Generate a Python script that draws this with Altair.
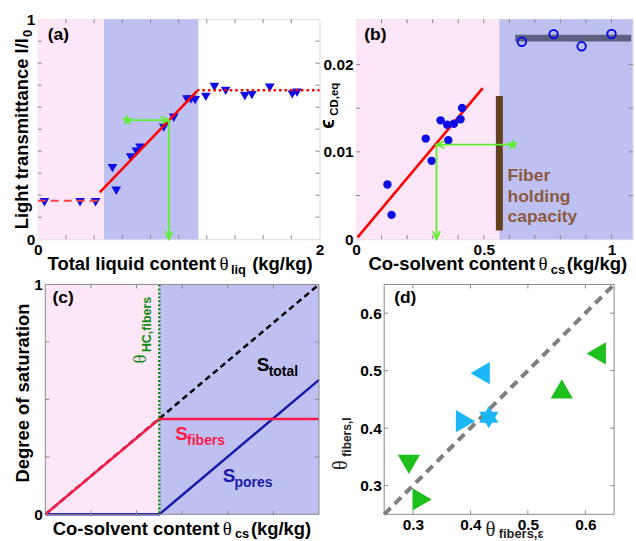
import altair as alt
import pandas as pd

# ---------------- (a) light transmittance vs total liquid content ----------------
a_liq = [0.047, 0.30, 0.41, 0.53, 0.557, 0.659, 0.70, 0.725, 0.894, 0.965,
         1.059, 1.087, 1.117, 1.193, 1.254, 1.334, 1.47, 1.52, 1.647, 1.807, 1.84]
a_trans = [0.168, 0.168, 0.168, 0.323, 0.22, 0.372, 0.398, 0.416, 0.507, 0.552,
           0.635, 0.635, 0.632, 0.647, 0.692, 0.674, 0.65, 0.655, 0.688, 0.658, 0.666]
a_dry_x = [0.0, 0.45]
a_dry_y = [0.175, 0.175]
a_rise_x = [0.44, 1.13]
a_rise_y = [0.213, 0.673]
a_wet_x = [1.13, 2.0]
a_wet_y = [0.677, 0.677]
a_zone = ["fibers", "pores"]
a_zone_from = [0.0, 0.47]
a_zone_to = [0.47, 1.14]
a_star_x = [0.635]
a_level = [0.541]
a_read_x = [0.93]

# ---------------- (b) equilibrium strain vs co-solvent content ----------------
b_cs = [0.123, 0.139, 0.273, 0.296, 0.331, 0.357, 0.361, 0.383, 0.409, 0.415]
b_eps = [0.00627, 0.00278, 0.01152, 0.00897, 0.01361, 0.0131, 0.01133, 0.01322, 0.01373, 0.01502]
b_sat_cs = [0.649, 0.773, 0.883, 1.0]
b_sat_eps = [0.02262, 0.02349, 0.02209, 0.0235]
b_fit_x = [0.006, 0.496]
b_fit_y = [0.0002, 0.0173]
b_band_from = [0.623]
b_band_to = [1.077]
b_band_level = [0.02303]
b_capacity = [0.561]
b_capacity_lo = [0.001]
b_capacity_hi = [0.0164]
b_zone = ["fibers", "pores"]
b_zone_from = [0.0, 0.561]
b_zone_to = [0.561, 1.083]
b_star_x = [0.613]
b_level = [0.01083]
b_read_x = [0.315]

# ---------------- (c) degree of saturation (schematic) ----------------
c_cs = [0.0, 0.25, 0.6]
c_fibers = [0.0, 0.415, 0.415]
c_pores = [0.0, 0.0, 0.585]
c_total_x = [0.0, 0.6]
c_total = [0.0, 1.0]
c_hc = [0.25]
c_zone = ["fibers", "pores"]
c_zone_from = [0.0, 0.25]
c_zone_to = [0.25, 0.6]

# ---------------- (d) fiber capacity from strain vs from transmittance ----------------
d_sample = ["S1", "S2", "S3", "S4", "S5", "S6", "S7"]
d_eps = [0.293, 0.316, 0.417, 0.3915, 0.432, 0.559, 0.619]
d_light = [0.337, 0.276, 0.4955, 0.412, 0.419, 0.4685, 0.530]
d_parity = [0.25, 0.65]

FONT = "Liberation Sans"
SERIF = "Liberation Serif"
FRAME = "#8a8a8a"
PINK = "#fde6f7"
LAV = "#bfc0f2"
RED = "#ff0000"
LIME = "#5cf02a"
BLUE = "#0d0de6"
GREEN = "#1ec01e"
CYAN = "#1ab6f5"

STAR5 = ("M0,-1L0.224,-0.307L0.951,-0.309L0.361,0.117L0.588,0.809L0,0.38"
         "L-0.588,0.809L-0.361,0.117L-0.951,-0.309L-0.224,-0.307Z")
HEX6 = ("M0,-1L0.289,-0.5L0.866,-0.5L0.577,0L0.866,0.5L0.289,0.5L0,1"
        "L-0.289,0.5L-0.866,0.5L-0.577,0L-0.866,-0.5L-0.289,-0.5Z")
CHEVRON = "M-1,-0.45L0,0L-1,0.45"

ONE = pd.DataFrame({"k": [0]})


def scales(xdom, ydom, xvals, yvals, xfmt, yfmt, xrange=None, yoffset=0):
    def axis(vals, fmt, offset=0):
        if not vals:
            return alt.Axis(labels=False, ticks=False, domain=False, grid=False, title=None)
        return alt.Axis(values=vals, format=fmt, title=None, domain=False, ticks=False,
                        grid=False, labelFont=FONT, labelFontWeight="bold",
                        labelFontSize=15.5, labelColor="black", labelPadding=3,
                        labelOverlap=False, labelFlush=False, offset=offset)
    if xrange:
        xs = alt.Scale(domain=xdom, range=xrange, nice=False, zero=False)
    else:
        xs = alt.Scale(domain=xdom, nice=False, zero=False)
    ys = alt.Scale(domain=ydom, nice=False, zero=False)
    xa, ya = axis(xvals, xfmt), axis(yvals, yfmt, yoffset)
    return (lambda f: alt.X(f, type="quantitative", scale=xs, axis=xa),
            lambda f: alt.Y(f, type="quantitative", scale=ys, axis=ya))


def inner_ticks(X, Y, xt, yt, x0, x1, h, n=4):
    rule = dict(color=FRAME, strokeWidth=1)
    dx = pd.DataFrame({"v": xt})
    dy = pd.DataFrame({"v": yt})
    return [
        alt.Chart(dx).mark_rule(**rule).encode(x=X("v"), y=alt.value(h), y2=alt.value(h - n)),
        alt.Chart(dx).mark_rule(**rule).encode(x=X("v"), y=alt.value(0), y2=alt.value(n)),
        alt.Chart(dy).mark_rule(**rule).encode(y=Y("v"), x=alt.value(x0), x2=alt.value(x0 + n)),
        alt.Chart(dy).mark_rule(**rule).encode(y=Y("v"), x=alt.value(x1), x2=alt.value(x1 - n)),
    ]


def frame(x0, x1, h):
    return alt.Chart(ONE).mark_rect(fillOpacity=0, stroke=FRAME, strokeWidth=1).encode(
        x=alt.value(x0), x2=alt.value(x1), y=alt.value(0), y2=alt.value(h))


def text(s, x, y, size, color="black", font=FONT, weight="bold", angle=0, align="left",
         style="normal"):
    return alt.Chart(ONE).mark_text(
        text=s, font=font, fontSize=size, fontWeight=weight, fontStyle=style, color=color,
        angle=angle, align=align, baseline="alphabetic"
    ).encode(x=alt.value(x), y=alt.value(y))


def zones(X, names, lo, hi, h):
    df = pd.DataFrame({"zone": names, "lo": lo, "hi": hi})
    return alt.Chart(df).mark_rect().encode(
        x=X("lo"), x2="hi", y=alt.value(0), y2=alt.value(h),
        color=alt.Color("zone:N", scale=alt.Scale(domain=["fibers", "pores"], range=[PINK, LAV]),
                        legend=None))


def line(X, Y, xs, ys, **kw):
    df = pd.DataFrame({"x": xs, "y": ys, "i": list(range(len(xs)))})
    return alt.Chart(df).mark_line(**kw).encode(x=X("x"), y=Y("y"), order="i:Q")


def reading(X, Y, star_x, level, read_x, angle_h):
    """Green star, horizontal arrow to the curve and vertical arrow to the axis."""
    df = pd.DataFrame({"s": star_x, "lv": level, "r": read_x, "z": [0.0]})
    hl = alt.Chart(df).mark_rule(color=LIME, strokeWidth=1.8).encode(x=X("s"), x2="r", y=Y("lv"))
    vl = alt.Chart(df).mark_rule(color=LIME, strokeWidth=1.8).encode(x=X("r"), y=Y("lv"), y2="z")
    hh = alt.Chart(df).mark_point(shape=CHEVRON, filled=False, size=260, strokeWidth=1.8,
                                  color=LIME, angle=angle_h, opacity=1).encode(x=X("r"), y=Y("lv"))
    vh = alt.Chart(df).mark_point(shape=CHEVRON, filled=False, size=260, strokeWidth=1.8,
                                  color=LIME, angle=90, opacity=1).encode(x=X("r"), y=Y("z"))
    st = alt.Chart(df).mark_point(shape=STAR5, filled=True, size=150, color=LIME,
                                  opacity=1).encode(x=X("s"), y=Y("lv"))
    return [hl, vl, hh, vh, st]


# ---------------- panel (a) ----------------
WA, HA = 283, 221
XA, YA = scales([0, 2], [0, 1], [0, 1, 2], [0, 1], "d", "d")
pa = alt.layer(
    alt.Chart(ONE).mark_rect(opacity=0).encode(
        x=alt.value(-37), x2=alt.value(-36), y=alt.value(-17), y2=alt.value(-16)),
    zones(XA, a_zone, a_zone_from, a_zone_to, HA),
    alt.Chart(pd.DataFrame({"x": a_liq, "y": a_trans})).mark_point(
        shape="triangle-down", filled=True, size=95, color=BLUE, opacity=1
    ).encode(x=XA("x"), y=YA("y")),
    line(XA, YA, a_dry_x, a_dry_y, color="#ff4040", strokeWidth=2, strokeDash=[8, 5]),
    line(XA, YA, a_rise_x, a_rise_y, color=RED, strokeWidth=2.5),
    line(XA, YA, a_wet_x, a_wet_y, color=RED, strokeWidth=2.5, strokeDash=[2.5, 3]),
    *reading(XA, YA, a_star_x, a_level, a_read_x, 0),
    *inner_ticks(XA, YA, [0.2, 0.4, 0.6, 0.8, 1.0, 1.2, 1.4, 1.6, 1.8],
                 [0.1, 0.2, 0.3, 0.4, 0.5, 0.6, 0.7, 0.8, 0.9], 0, WA, HA),
    text("(a)", 10, 21, 17.5),
    text("Total liquid content", 179, 252, 18.5, align="right"),
    text("θ", 182.5, 252, 19, font=SERIF, weight="normal"),
    text("liq", 194, 256, 13),
    text("(kg/kg)", 276, 252, 18.5, align="right"),
    text("Light transmittance I/I", -10, 19, 18.5, angle=270, align="right"),
    text("0", -6, 18, 13, angle=270),
).properties(width=WA, height=HA)

# ---------------- panel (b) ----------------
WB, HB = 278, 221
XB, YB = scales([0, 1.083], [0, 0.0252], [0, 0.5, 1], [0, 0.01, 0.02], "~g", "~g")
band = pd.DataFrame({"lo": b_band_from, "hi": b_band_to, "y": b_band_level})
cap = pd.DataFrame({"x": b_capacity, "lo": b_capacity_lo, "hi": b_capacity_hi})
BROWN_TXT = "#8b5a3c"
pb = alt.layer(
    zones(XB, b_zone, b_zone_from, b_zone_to, HB),
    alt.Chart(band).mark_rule(color="#5d5f7e", strokeWidth=7, strokeCap="butt").encode(
        x=XB("lo"), x2="hi", y=YB("y")),
    alt.Chart(cap).mark_rule(color="#63401f", strokeWidth=7, strokeCap="butt").encode(
        x=XB("x"), y=YB("lo"), y2="hi"),
    line(XB, YB, b_fit_x, b_fit_y, color=RED, strokeWidth=2.5),
    alt.Chart(pd.DataFrame({"x": b_cs, "y": b_eps})).mark_circle(
        size=72, color=BLUE, opacity=1).encode(x=XB("x"), y=YB("y")),
    alt.Chart(pd.DataFrame({"x": b_sat_cs, "y": b_sat_eps})).mark_point(
        shape="circle", size=72, color=BLUE, strokeWidth=2, filled=False, opacity=1
    ).encode(x=XB("x"), y=YB("y")),
    *reading(XB, YB, b_star_x, b_level, b_read_x, 180),
    *inner_ticks(XB, YB, [0.1, 0.2, 0.3, 0.4, 0.5, 0.6, 0.7, 0.8, 0.9, 1.0],
                 [0.005, 0.01, 0.015, 0.02], 0, WB, HB),
    text("(b)", 8.3, 21, 17.5),
    text("Co-solvent content", 180, 252, 18.5, align="right"),
    text("θ", 183.3, 252, 19, font=SERIF, weight="normal"),
    text("cs", 195.6, 256, 13),
    text("(kg/kg)", 272.3, 252, 18.5, align="right"),
    text("ϵ", -21.7, 110, 20, angle=270),
    text("CD,eq", -17.7, 97, 11.5, angle=270),
    text("Fiber", 152.3, 163, 17.5, color=BROWN_TXT),
    text("holding", 152.3, 184, 17.5, color=BROWN_TXT),
    text("capacity", 152.3, 204, 17.5, color=BROWN_TXT),
).properties(width=WB, height=HB)

# ---------------- panel (c) ----------------
# the cell is as wide as panel (a); the plot sits 7.5 px in from its left edge
WC, HC = 283, 231
C0, C1 = 7.5, 282.5
XC, YC = scales([0, 0.6], [0, 1], [], [0, 1], "", "d", xrange=[C0, C1], yoffset=-C0)
hc = pd.DataFrame({"x": c_hc})
pc = alt.layer(
    zones(XC, c_zone, c_zone_from, c_zone_to, HC),
    line(XC, YC, c_total_x, c_total, color="black", strokeWidth=2.5, strokeDash=[6, 4]),
    line(XC, YC, c_cs, c_pores, color="#1a1aaa", strokeWidth=2.5),
    line(XC, YC, c_cs, c_fibers, color="#ff1a4a", strokeWidth=2.5),
    alt.Chart(hc).mark_rule(color="#128a12", strokeWidth=2.5, strokeDash=[2, 2]).encode(
        x=XC("x"), y=alt.value(0), y2=alt.value(HC)),
    *inner_ticks(XC, YC, [0.1, 0.2, 0.3, 0.4, 0.5], [0.25, 0.5, 0.75], C0, C1, HC),
    frame(C0, C1, HC),
    text("(c)", 14.7, 18.5, 17.5),
    text("Co-solvent content", 182.5, 251.5, 18.5, align="right"),
    text("θ", 185.7, 251.5, 19, font=SERIF, weight="normal"),
    text("cs", 198, 254.5, 13),
    text("(kg/kg)", 274.7, 251.5, 18.5, align="right"),
    text("Degree of saturation", -8.5, 109, 18.5, angle=270, align="center"),
    text("S", 220, 86.5, 19),
    text("total", 232, 91.5, 14),
    text("S", 138, 156.5, 19, color="#ff1a4a"),
    text("fibers", 150, 161.5, 14, color="#ff1a4a"),
    text("S", 185.7, 198.5, 19, color="#1a1aaa"),
    text("pores", 197.7, 203.5, 14, color="#1a1aaa"),
    text("θ", 109, 79.5, 19, color="#128a12", font=SERIF, weight="normal", angle=270),
    text("HC,fibers", 114, 68, 12.5, color="#128a12", angle=270),
).properties(width=WC, height=HC, view=alt.ViewBackground(stroke="transparent"))

# ---------------- panel (d) ----------------
# the cell is as wide as panel (b); the square plot sits 28.3 px in from its left edge
WD, HD = 278, 231
D0, D1 = 28.3, 259.3
XD, YD = scales([0.25, 0.65], [0.25, 0.65], [0.3, 0.4, 0.5, 0.6], [0.3, 0.4, 0.5, 0.6],
                ".1f", ".1f", xrange=[D0, D1], yoffset=-D0)
d_df = pd.DataFrame({"x": d_eps, "y": d_light, "sample": d_sample})
pdd = alt.layer(
    line(XD, YD, d_parity, d_parity, color="#7f7f7f", strokeWidth=4, strokeDash=[9, 6]),
    alt.Chart(d_df).mark_point(filled=True, opacity=1, strokeWidth=0).encode(
        x=XD("x"), y=YD("y"),
        shape=alt.Shape("sample:N", legend=None, scale=alt.Scale(
            domain=d_sample,
            range=["triangle-down", "triangle-right", "triangle-left", "triangle-right",
                   HEX6, "triangle-up", "triangle-left"])),
        color=alt.Color("sample:N", legend=None, scale=alt.Scale(
            domain=d_sample, range=[GREEN, GREEN, CYAN, CYAN, CYAN, GREEN, GREEN])),
        size=alt.Size("sample:N", legend=None, scale=alt.Scale(
            domain=d_sample, range=[500, 500, 500, 500, 640, 500, 500]))),
    *inner_ticks(XD, YD, [0.3, 0.4, 0.5, 0.6], [0.3, 0.4, 0.5, 0.6], D0, D1, HD),
    frame(D0, D1, HD),
    text("(d)", 38.3, 18.5, 17.5),
    text("θ", -8.7, 186.5, 20, color="#262626", font=SERIF, weight="normal", angle=270),
    text("fibers,I", -4.7, 173, 12, color="#262626", angle=270),
    text("θ", 130, 252.5, 21, color="#262626", font=SERIF, weight="normal"),
    text("fibers,ε", 143.3, 254.5, 13, color="#262626"),
).properties(width=WD, height=HD, view=alt.ViewBackground(stroke="transparent"))


chart = alt.concat(
    pa, pb, pc, pdd,
    columns=2, bounds="flush", spacing={"row": 45.5, "column": 36.7},
).resolve_scale(
    color="independent", shape="independent", size="independent"
).properties(padding=0).configure_view(stroke=FRAME, strokeWidth=1).configure(
    font=FONT, background="white")

chart.save("out.html", embed_options={"renderer": "svg", "actions": False})
